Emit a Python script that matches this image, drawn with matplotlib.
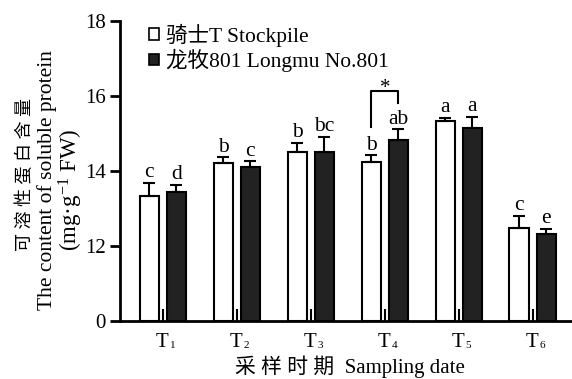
import matplotlib
matplotlib.use("Agg")
import matplotlib.pyplot as plt
import numpy as np
from matplotlib.patches import Patch

plt.rcParams['font.family'] = ['Liberation Serif', 'Noto Sans CJK SC']
plt.rcParams['mathtext.fontset'] = 'custom'
plt.rcParams['mathtext.rm'] = 'Liberation Serif'
plt.rcParams['mathtext.it'] = 'Liberation Serif:italic'

categories = ["1", "2", "3", "4", "5", "6"]
tick_prefix = "T"
series_names = ["骑士T Stockpile", "龙牧801 Longmu No.801"]
stockpile = [13.33, 14.22, 14.52, 14.24, 15.33, 12.47]
stockpile_err = [0.35, 0.14, 0.23, 0.18, 0.08, 0.34]
longmu = [13.43, 14.10, 14.50, 14.83, 15.15, 12.33]
longmu_err = [0.20, 0.16, 0.42, 0.28, 0.29, 0.12]
stockpile_letters = ["c", "b", "b", "b", "a", "c"]
longmu_letters = ["d", "c", "bc", "ab", "a", "e"]
yticks = [0, 12, 14, 16, 18]


def fwd(y):
    y = np.asarray(y, dtype=float)
    return np.where(y <= 12, y / 12.0, 1 + (y - 12) / 2.0)


def inv(u):
    u = np.asarray(u, dtype=float)
    return np.where(u <= 1, u * 12.0, 12 + (u - 1) * 2.0)


fig = plt.figure(figsize=(5.72, 3.79), dpi=100)
ax = fig.add_axes([120 / 572, 58 / 379, 452 / 572, 300 / 379])
ax.set_yscale('function', functions=(fwd, inv))

x = np.arange(len(categories))
w = 0.264
off = 0.183
ax.bar(x - off, stockpile, w, color='white', edgecolor='black', linewidth=1.5, zorder=2)
ax.bar(x + off, longmu, w, color='#222222', edgecolor='black', linewidth=1.5, zorder=2)
ax.errorbar(x - off, stockpile, yerr=[np.zeros(6), stockpile_err], fmt='none',
            ecolor='black', elinewidth=1.5, capsize=4, capthick=1.5, zorder=3)
ax.errorbar(x + off, longmu, yerr=[np.zeros(6), longmu_err], fmt='none',
            ecolor='black', elinewidth=1.5, capsize=4, capthick=1.5, zorder=3)

for i in range(len(categories)):
    ax.annotate(stockpile_letters[i], (x[i] - off, stockpile[i] + stockpile_err[i]),
                xytext=(0, 0.5), textcoords='offset points', ha='center', va='bottom', fontsize=15.5)
    ax.annotate(longmu_letters[i], (x[i] + off, longmu[i] + longmu_err[i]),
                xytext=(0, 0.5), textcoords='offset points', ha='center', va='bottom', fontsize=15.5)

# significance bracket at T4
ax.plot([3 - off, 3 - off, 3 + off, 3 + off], [15.18, 16.13, 16.13, 15.81],
        color='black', lw=1.5, zorder=3)
ax.annotate("*", (3, 16.13), xytext=(0, -5), textcoords='offset points',
            ha='center', va='bottom', fontsize=15)

ax.set_xlim(-0.58, 5.53)
ax.set_ylim(0, 18)
ax.set_yticks(yticks)
ax.set_xticks(x)
ax.set_xticklabels([])
ax.tick_params(axis='y', direction='out', length=7, width=2, labelsize=15, pad=3)
ax.tick_params(axis='x', direction='in', length=9, width=1.5)
for s in ['top', 'right']:
    ax.spines[s].set_visible(False)
for s in ['left', 'bottom']:
    ax.spines[s].set_linewidth(2)

# x tick labels: T with small subscript
for i, c in enumerate(categories):
    ax.annotate(tick_prefix, (x[i], 0), xycoords=('data', 'axes fraction'),
                xytext=(-0.5, -19), textcoords='offset points',
                ha='center', va='baseline', fontsize=15)
    ax.annotate(c, (x[i], 0), xycoords=('data', 'axes fraction'),
                xytext=(5, -19.5), textcoords='offset points',
                ha='left', va='baseline', fontsize=8)

handles = [Patch(facecolor='white', edgecolor='black', linewidth=1.2),
           Patch(facecolor='#222222', edgecolor='black', linewidth=1.2)]
ax.legend(handles, series_names, loc='upper left', bbox_to_anchor=(0.046, 1.02),
          frameon=False, fontsize=15.5, handlelength=0.45, handleheight=0.45,
          handletextpad=0.3, labelspacing=0.1, borderaxespad=0)

fig.text(350 / 572, 1 - 373 / 379, "采 样 时 期  Sampling date", ha='center', va='baseline', fontsize=15)
fig.text(25 / 572, 1 - 175 / 379, "可 溶 性 蛋 白 含 量", rotation=90, ha='center', va='center', fontsize=13)
fig.text(47 / 572, 1 - 180 / 379, "The content of soluble protein", rotation=90, ha='center', va='center', fontsize=15.5)
fig.text(71 / 572, 1 - 190 / 379, "(mg·g$^{-1}$ FW)", rotation=90, ha='center', va='center', fontsize=16.5)

fig.savefig("out.png", dpi=100)
